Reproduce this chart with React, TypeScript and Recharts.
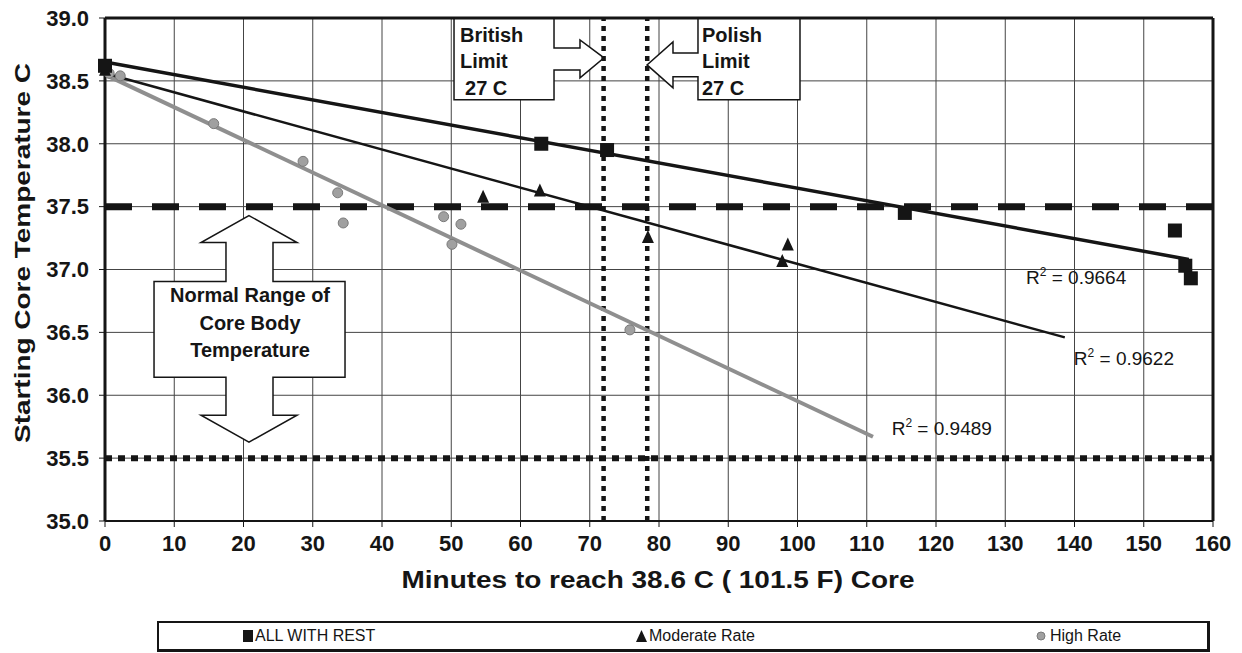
import React from 'react'
import {
  ScatterChart,
  Scatter,
  XAxis,
  YAxis,
  CartesianGrid,
  ReferenceLine,
  ReferenceArea,
  Legend,
  Label,
} from 'recharts'

// minutes to reach 38.6 C vs starting core temperature
const restMinutes = [0, 63, 72.5, 115.5, 154.5, 156, 156.8]
const restTemps = [38.62, 38.0, 37.95, 37.45, 37.31, 37.03, 36.93]

const moderateMinutes = [0, 54.6, 62.8, 78.4, 97.8, 98.6]
const moderateTemps = [38.58, 37.57, 37.62, 37.25, 37.06, 37.19]

const highMinutes = [0.6, 2.2, 15.7, 28.6, 33.6, 34.4, 48.9, 51.4, 50.1, 75.8]
const highTemps = [38.56, 38.54, 38.16, 37.86, 37.61, 37.37, 37.42, 37.36, 37.2, 36.52]

// fitted trendlines: [x start, y start, x end, y end]
const restTrend = [0, 38.65, 156.5, 37.08]
const moderateTrend = [0, 38.56, 138.6, 36.46]
const highTrend = [0, 38.55, 110.9, 35.67]

const rSquared = ['0.9664', '0.9622', '0.9489']

const xTicks = [0, 10, 20, 30, 40, 50, 60, 70, 80, 90, 100, 110, 120, 130, 140, 150, 160]
const yTicks = [35, 35.5, 36, 36.5, 37, 37.5, 38, 38.5, 39]

const seriesNames = ['ALL WITH REST', 'Moderate Rate', 'High Rate']

const FONT = '"Liberation Sans", Arial, sans-serif'
const X_MAX = 160
const Y_MIN = 35
const Y_MAX = 39

const toPoints = (xs: number[], ys: number[]) => xs.map((x, i) => ({ x, y: ys[i] }))

const restData = toPoints(restMinutes, restTemps)
const moderateData = toPoints(moderateMinutes, moderateTemps)
const highData = toPoints(highMinutes, highTemps)

const SquareDot = (p: any) => (
  <rect x={p.cx - 7} y={p.cy - 7} width={14} height={14} fill="#151515" />
)
const TriangleDot = (p: any) => (
  <polygon
    points={`${p.cx},${p.cy - 8} ${p.cx - 6},${p.cy + 5} ${p.cx + 6},${p.cy + 5}`}
    fill="#151515"
  />
)
const CircleDot = (p: any) => (
  <circle cx={p.cx} cy={p.cy} r={5} fill="#a0a0a0" stroke="#7a7a7a" strokeWidth={1} />
)

// annotation outlines in data units
const britishShape = [
  [50.4, 39], [64.84, 39], [64.84, 38.762], [68.59, 38.762], [68.59, 38.825],
  [72.06, 38.683], [68.59, 38.524], [68.59, 38.587], [64.84, 38.587],
  [64.84, 38.349], [50.4, 38.349],
]
const polishShape = [
  [85.63, 39], [100.36, 39], [100.36, 38.349], [85.63, 38.349], [85.63, 38.532],
  [82.02, 38.532], [82.02, 38.444], [78.27, 38.627], [82.02, 38.81],
  [82.02, 38.722], [85.63, 38.722],
]
const normalShape = [
  [20.79, 37.429], [27.73, 37.214], [24.26, 37.214], [24.26, 36.905], [34.66, 36.905],
  [34.66, 36.143], [24.26, 36.143], [24.26, 35.841], [27.73, 35.841], [20.79, 35.627],
  [13.86, 35.841], [17.47, 35.841], [17.47, 36.143], [7.08, 36.143], [7.08, 36.905],
  [17.47, 36.905], [17.47, 37.214], [13.86, 37.214],
]

const Overlay = (props: any) => {
  const { x, y, width, height } = props
  const px = (d: number) => x + (d / X_MAX) * width
  const py = (d: number) => y + ((Y_MAX - d) / (Y_MAX - Y_MIN)) * height
  const poly = (pts: number[][]) => pts.map(([a, b]) => `${px(a)},${py(b)}`).join(' ')
  const bold = { fontFamily: FONT, fontWeight: 700, fontSize: 20, fill: '#151515' }
  const r2 = (dx: number, dy: number, v: string) => (
    <text x={px(dx)} y={py(dy)} style={{ fontFamily: FONT, fontSize: 19, fill: '#151515' }}>
      R<tspan dy={-8} fontSize={12}>2</tspan>
      <tspan dy={8}> = {v}</tspan>
    </text>
  )
  return (
    <g>
      <polygon points={poly(britishShape)} fill="#fff" stroke="#151515" strokeWidth={1.5} />
      <text x={px(51.26)} y={py(38.81)} style={bold}>British</text>
      <text x={px(51.26)} y={py(38.603)} style={bold}>Limit</text>
      <text x={px(51.99)} y={py(38.389)} style={bold}>27 C</text>

      <polygon points={poly(polishShape)} fill="#fff" stroke="#151515" strokeWidth={1.5} />
      <text x={px(86.21)} y={py(38.81)} style={bold}>Polish</text>
      <text x={px(86.21)} y={py(38.603)} style={bold}>Limit</text>
      <text x={px(86.21)} y={py(38.389)} style={bold}>27 C</text>

      <polygon points={poly(normalShape)} fill="#fff" stroke="#151515" strokeWidth={1.5} />
      <text x={px(20.94)} y={py(36.738)} textAnchor="middle" style={bold}>Normal Range of</text>
      <text x={px(20.94)} y={py(36.516)} textAnchor="middle" style={bold}>Core Body</text>
      <text x={px(20.94)} y={py(36.302)} textAnchor="middle" style={bold}>Temperature</text>

      {r2(133.0, 36.885, rSquared[0])}
      {r2(139.9, 36.24, rSquared[1])}
      {r2(113.6, 35.685, rSquared[2])}
    </g>
  )
}

const legendIcons = [
  <span style={{ display: 'inline-block', width: 10, height: 12, background: '#151515', marginRight: 2 }} />,
  <svg width={11} height={12} style={{ marginRight: 2 }}>
    <polygon points="5.5,0 0,12 11,12" fill="#151515" />
  </svg>,
  <svg width={10} height={10} style={{ marginRight: 4 }}>
    <circle cx={5} cy={5} r={4} fill="#a0a0a0" stroke="#7a7a7a" />
  </svg>,
]
const legendLeft = [84, 477, 877]

const renderLegend = () => (
  <div
    style={{
      position: 'relative',
      height: 26,
      border: '2px solid #151515',
      borderRightWidth: 3,
      borderBottomWidth: 3,
      fontFamily: FONT,
      fontSize: 16,
      color: '#151515',
      background: '#fff',
    }}
  >
    {seriesNames.map((name, i) => (
      <div
        key={name}
        style={{ position: 'absolute', left: legendLeft[i], top: 4, display: 'flex', alignItems: 'center', lineHeight: '18px' }}
      >
        {legendIcons[i]}
        {name}
      </div>
    ))}
  </div>
)

const tickStyle = { fontFamily: FONT, fontWeight: 700, fontSize: 22, fill: '#151515' }

export default function App() {
  return (
    <div style={{ position: 'absolute', left: 0, top: 0, width: 1242, height: 653, background: '#fff' }}>
      <ScatterChart width={1242} height={653} margin={{ top: 18, right: 29, bottom: 71, left: 40 }}>
        <CartesianGrid stroke="#444" strokeWidth={1} />
        <XAxis
          type="number"
          dataKey="x"
          domain={[0, X_MAX]}
          ticks={xTicks}
          interval={0}
          height={30}
          tickSize={6}
          tickMargin={8}
          tick={tickStyle}
          axisLine={{ stroke: '#151515', strokeWidth: 2 }}
          tickLine={{ stroke: '#151515' }}
        >
          <Label
            content={() => (
              <text
                x={658}
                y={588}
                textAnchor="middle"
                textLength={513}
                lengthAdjust="spacingAndGlyphs"
                style={{ fontFamily: FONT, fontWeight: 700, fontSize: 23, fill: '#151515' }}
              >
                Minutes to reach 38.6 C ( 101.5 F) Core
              </text>
            )}
          />
        </XAxis>
        <YAxis
          type="number"
          dataKey="y"
          domain={[Y_MIN, Y_MAX]}
          ticks={yTicks}
          interval={0}
          width={65}
          tickSize={6}
          tickMargin={10}
          tick={tickStyle}
          tickFormatter={(v: number) => v.toFixed(1)}
          axisLine={{ stroke: '#151515', strokeWidth: 3 }}
          tickLine={{ stroke: '#151515' }}
        >
          <Label
            content={() => (
              <text
                x={0}
                y={0}
                transform="translate(30, 253) rotate(-90)"
                textAnchor="middle"
                textLength={380}
                lengthAdjust="spacingAndGlyphs"
                style={{ fontFamily: FONT, fontWeight: 700, fontSize: 22, fill: '#151515' }}
              >
                Starting Core Temperature C
              </text>
            )}
          />
        </YAxis>

        <ReferenceArea x1={0} x2={X_MAX} y1={Y_MIN} y2={Y_MAX} shape={Overlay} />

        <ReferenceLine y={Y_MAX} stroke="#151515" strokeWidth={3} />
        <ReferenceLine x={X_MAX} stroke="#151515" strokeWidth={3} />

        <ReferenceLine y={37.5} stroke="#151515" strokeWidth={7} strokeDasharray="27 20" />
        <ReferenceLine y={35.5} stroke="#151515" strokeWidth={6} strokeDasharray="7 6" />
        <ReferenceLine x={72} stroke="#151515" strokeWidth={4.5} strokeDasharray="5 5" />
        <ReferenceLine x={78.3} stroke="#151515" strokeWidth={4.5} strokeDasharray="5 5" />

        <ReferenceLine
          segment={[{ x: highTrend[0], y: highTrend[1] }, { x: highTrend[2], y: highTrend[3] }]}
          stroke="#8f8f8f"
          strokeWidth={4}
        />
        <ReferenceLine
          segment={[{ x: moderateTrend[0], y: moderateTrend[1] }, { x: moderateTrend[2], y: moderateTrend[3] }]}
          stroke="#151515"
          strokeWidth={2.5}
        />
        <ReferenceLine
          segment={[{ x: restTrend[0], y: restTrend[1] }, { x: restTrend[2], y: restTrend[3] }]}
          stroke="#151515"
          strokeWidth={3.5}
        />

        <Scatter name={seriesNames[2]} data={highData} shape={CircleDot} isAnimationActive={false} />
        <Scatter name={seriesNames[1]} data={moderateData} shape={TriangleDot} isAnimationActive={false} />
        <Scatter name={seriesNames[0]} data={restData} shape={SquareDot} isAnimationActive={false} />

        <Legend
          verticalAlign="bottom"
          content={renderLegend}
          wrapperStyle={{ left: 157, width: 1053, top: 621, bottom: 'auto' }}
        />
      </ScatterChart>
    </div>
  )
}
